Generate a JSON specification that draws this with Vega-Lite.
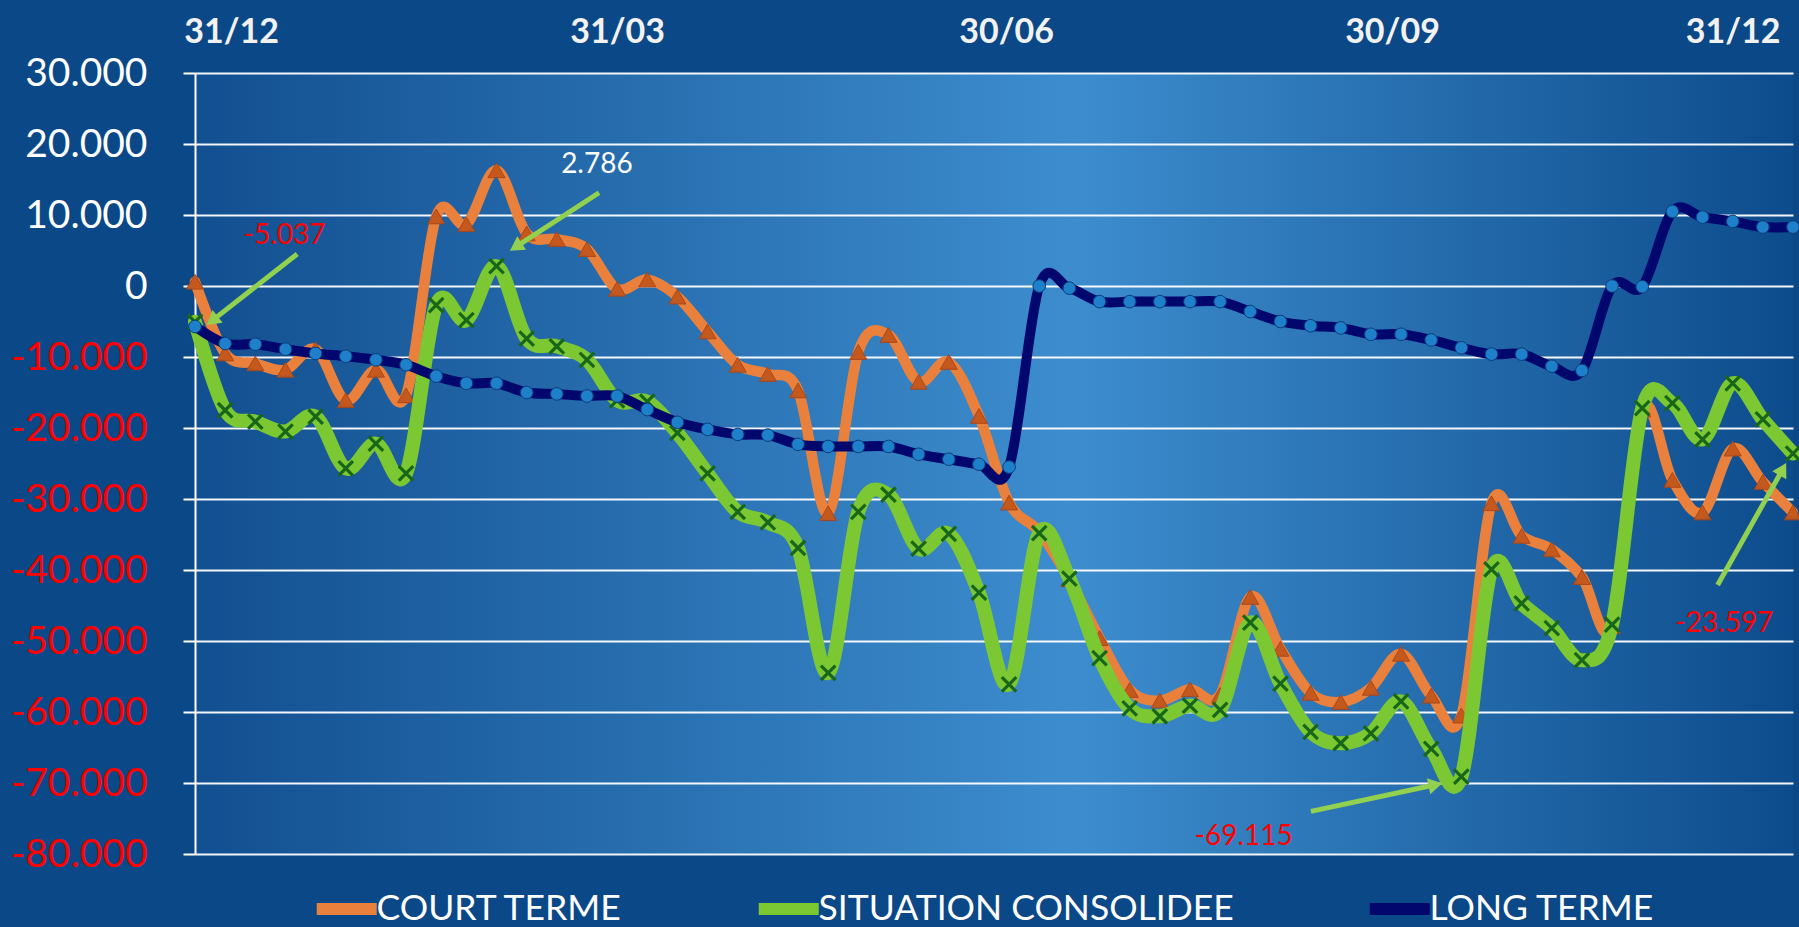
{
  "$schema": "https://vega.github.io/schema/vega-lite/v6.json",
  "width": 1598,
  "height": 781,
  "padding": {"left": 0, "top": 0, "right": 6, "bottom": 0},
  "background": "#0B4887",
  "config": {
    "locale": {"number": {"decimal": ",", "thousands": ".", "grouping": [3], "currency": ["", " €"], "minus": "-"}},
    "view": {"stroke": null, "fill": {"gradient": "linear", "x1": 0, "y1": 0, "x2": 1, "y2": 0, "stops": [{"offset": 0, "color": "#124F90"}, {"offset": 0.55, "color": "#3D8DCE"}, {"offset": 1, "color": "#0D4C8C"}]}},
    "font": "Lato"
  },
  "datasets": {
    "semaines": [
      {"s": 0, "ct": 600, "sc": -5037, "lt": -5700},
      {"s": 1, "ct": -9500, "sc": -17500, "lt": -8100},
      {"s": 2, "ct": -10900, "sc": -19100, "lt": -8200},
      {"s": 3, "ct": -11800, "sc": -20500, "lt": -8900},
      {"s": 4, "ct": -8900, "sc": -18400, "lt": -9500},
      {"s": 5, "ct": -16100, "sc": -25700, "lt": -9900},
      {"s": 6, "ct": -11800, "sc": -22200, "lt": -10400},
      {"s": 7, "ct": -15400, "sc": -26400, "lt": -11100},
      {"s": 8, "ct": 9800, "sc": -2700, "lt": -12700},
      {"s": 9, "ct": 8700, "sc": -4800, "lt": -13700},
      {"s": 10, "ct": 16300, "sc": 2786, "lt": -13700},
      {"s": 11, "ct": 7400, "sc": -7400, "lt": -15000},
      {"s": 12, "ct": 6600, "sc": -8500, "lt": -15200},
      {"s": 13, "ct": 5200, "sc": -10400, "lt": -15500},
      {"s": 14, "ct": -400, "sc": -16100, "lt": -15500},
      {"s": 15, "ct": 900, "sc": -16300, "lt": -17400},
      {"s": 16, "ct": -1500, "sc": -20700, "lt": -19200},
      {"s": 17, "ct": -6400, "sc": -26400, "lt": -20200},
      {"s": 18, "ct": -11100, "sc": -31800, "lt": -20900},
      {"s": 19, "ct": -12400, "sc": -33300, "lt": -21000},
      {"s": 20, "ct": -14700, "sc": -36900, "lt": -22300},
      {"s": 21, "ct": -32000, "sc": -54500, "lt": -22600},
      {"s": 22, "ct": -9300, "sc": -31800, "lt": -22600},
      {"s": 23, "ct": -6900, "sc": -29400, "lt": -22600},
      {"s": 24, "ct": -13500, "sc": -37000, "lt": -23700},
      {"s": 25, "ct": -10700, "sc": -34900, "lt": -24400},
      {"s": 26, "ct": -18300, "sc": -43200, "lt": -25100},
      {"s": 27, "ct": -30500, "sc": -56100, "lt": -25500},
      {"s": 28, "ct": -34600, "sc": -34800, "lt": 0},
      {"s": 29, "ct": -41300, "sc": -41200, "lt": -300},
      {"s": 30, "ct": -49600, "sc": -52400, "lt": -2200},
      {"s": 31, "ct": -56900, "sc": -59500, "lt": -2200},
      {"s": 32, "ct": -58400, "sc": -60600, "lt": -2200},
      {"s": 33, "ct": -56800, "sc": -59100, "lt": -2200},
      {"s": 34, "ct": -57600, "sc": -59700, "lt": -2200},
      {"s": 35, "ct": -43800, "sc": -47400, "lt": -3600},
      {"s": 36, "ct": -51100, "sc": -56000, "lt": -5000},
      {"s": 37, "ct": -57300, "sc": -62800, "lt": -5600},
      {"s": 38, "ct": -58600, "sc": -64400, "lt": -5900},
      {"s": 39, "ct": -56600, "sc": -63000, "lt": -6800},
      {"s": 40, "ct": -51800, "sc": -58500, "lt": -6800},
      {"s": 41, "ct": -57700, "sc": -65200, "lt": -7600},
      {"s": 42, "ct": -60500, "sc": -69115, "lt": -8700},
      {"s": 43, "ct": -30600, "sc": -39900, "lt": -9600},
      {"s": 44, "ct": -35200, "sc": -44700, "lt": -9600},
      {"s": 45, "ct": -37100, "sc": -48200, "lt": -11300},
      {"s": 46, "ct": -41000, "sc": -52700, "lt": -11900},
      {"s": 47, "ct": -47900, "sc": -47700, "lt": 0},
      {"s": 48, "ct": -17400, "sc": -17200, "lt": -100},
      {"s": 49, "ct": -27300, "sc": -16500, "lt": 10500},
      {"s": 50, "ct": -31900, "sc": -21600, "lt": 9700},
      {"s": 51, "ct": -22900, "sc": -13700, "lt": 9100},
      {"s": 52, "ct": -27600, "sc": -18800, "lt": 8300},
      {"s": 53, "ct": -31900, "sc": -23597, "lt": 8300}
    ],
    "etiquettes": [
      {"x": 2.97, "y": 7000, "t": "-5.037", "neg": true},
      {"x": 13.33, "y": 17100, "t": "2.786", "neg": false},
      {"x": 34.78, "y": -77600, "t": "-69.115", "neg": true},
      {"x": 50.72, "y": -47550, "t": "-23.597", "neg": true}
    ],
    "fleches": [
      {"id": 1, "x0": 3.39, "y0": 4510, "hx": 0.57, "hy": -4880},
      {"id": 2, "x0": 13.4, "y0": 13130, "hx": 10.64, "hy": 5510},
      {"id": 3, "x0": 37.01, "y0": -74000, "hx": 41.14, "hy": -70250},
      {"id": 4, "x0": 50.5, "y0": -42100, "hx": 52.66, "hy": -25800}
    ]
  },
  "layer": [
    {
      "data": {"name": "semaines"},
      "mark": {"type": "line", "interpolate": "cardinal", "strokeWidth": 10.5, "strokeCap": "round", "strokeJoin": "round"},
      "encoding": {
        "x": {"field": "s", "type": "quantitative", "title": null,
          "scale": {"domain": [0, 53], "nice": false, "zero": false},
          "axis": {"orient": "top", "values": [1.2, 14, 26.9, 39.7, 51], "labelExpr": "datum.value < 5 ? '31/12' : datum.value < 20 ? '31/03' : datum.value < 30 ? '30/06' : datum.value < 45 ? '30/09' : '31/12'", "domain": false, "ticks": false, "tickSize": 0, "grid": false, "labelFont": "Lato", "labelFontWeight": "bold", "labelFontSize": 34, "labelColor": "#F2F2F2", "labelPadding": 31, "labelBaseline": "alphabetic", "labelAlign": "center", "minExtent": 73, "maxExtent": 73, "title": null, "labelFlush": false, "labelOverlap": false}},
        "y": {"field": "ct", "type": "quantitative", "title": null,
          "scale": {"domain": [-80000, 30000], "nice": false, "zero": false},
          "axis": {"values": [-80000, -75000, -70000, -65000, -60000, -55000, -50000, -45000, -40000, -35000, -30000, -25000, -20000, -15000, -10000, -5000, 0, 5000, 10000, 15000, 20000, 25000, 30000],
            "format": ",.0f", "labelExpr": "datum.value % 10000 === 0 ? datum.label : ''",
            "labelColor": {"condition": {"test": "datum.value < 0", "value": "#FF0000"}, "value": "#FFFFFF"},
            "labelFont": "Lato", "labelFontSize": 39, "labelPadding": 36, "labelOverlap": false, "labelFlush": false,
            "tickSize": 12, "tickWidth": 2,
            "tickColor": {"condition": {"test": "datum.value % 10000 === 0", "value": "#FFFFFF"}, "value": "rgba(0,0,0,0)"},
            "grid": true,
            "gridColor": "#FFFFFF",
            "gridOpacity": {"condition": {"test": "datum.value % 10000 === 0", "value": 0.95}, "value": 0.25},
            "gridWidth": {"condition": {"test": "datum.value % 10000 === 0", "value": 2}, "value": 1.5},
            "domain": true, "domainColor": "#FFFFFF", "domainWidth": 2,
            "minExtent": 195, "maxExtent": 195, "title": null}},
        "color": {"datum": "COURT TERME", "type": "nominal",
          "scale": {"domain": ["COURT TERME", "SITUATION CONSOLIDEE", "LONG TERME"], "range": ["#E9803C", "#7CC832", "#02076E"]},
          "legend": {"orient": "none", "legendX": 134, "legendY": 818, "direction": "horizontal", "columns": 3, "title": null, "symbolType": "M-3,0H3", "symbolStrokeWidth": 12, "symbolSize": 400, "labelFont": "Lato", "labelFontSize": 35.5, "labelColor": "#FFFFFF", "labelOffset": 12, "columnPadding": 111, "labelLimit": 0}}
      }
    },
    {
      "data": {"name": "semaines"},
      "mark": {"type": "point", "shape": "triangle-up", "size": 290, "filled": true, "fill": "#C4561B", "stroke": "#A8461A", "strokeWidth": 1, "opacity": 0.95},
      "encoding": {
        "x": {"field": "s", "type": "quantitative", "title": null},
        "y": {"field": "ct", "type": "quantitative", "title": null}
      }
    },
    {
      "data": {"name": "semaines"},
      "mark": {"type": "line", "interpolate": "cardinal", "strokeWidth": 14, "strokeCap": "round", "strokeJoin": "round"},
      "encoding": {
        "x": {"field": "s", "type": "quantitative", "title": null},
        "y": {"field": "sc", "type": "quantitative", "title": null},
        "color": {"datum": "SITUATION CONSOLIDEE", "type": "nominal"}
      }
    },
    {
      "data": {"name": "semaines"},
      "mark": {"type": "point", "shape": "M-1,-1L1,1M-1,1L1,-1", "size": 210, "filled": false, "stroke": "#17661A", "strokeWidth": 3.2, "opacity": 1},
      "encoding": {
        "x": {"field": "s", "type": "quantitative", "title": null},
        "y": {"field": "sc", "type": "quantitative", "title": null}
      }
    },
    {
      "data": {"name": "semaines"},
      "mark": {"type": "line", "interpolate": "cardinal", "strokeWidth": 10, "strokeCap": "round", "strokeJoin": "round"},
      "encoding": {
        "x": {"field": "s", "type": "quantitative", "title": null},
        "y": {"field": "lt", "type": "quantitative", "title": null},
        "color": {"datum": "LONG TERME", "type": "nominal"}
      }
    },
    {
      "data": {"name": "semaines"},
      "mark": {"type": "point", "shape": "circle", "size": 160, "filled": true, "fill": "#1E7FCB", "stroke": "#0B3E78", "strokeWidth": 1, "opacity": 1},
      "encoding": {
        "x": {"field": "s", "type": "quantitative", "title": null},
        "y": {"field": "lt", "type": "quantitative", "title": null}
      }
    },
    {
      "data": {"name": "fleches"},
      "mark": {"type": "rule", "stroke": "#92D050", "strokeWidth": 5},
      "encoding": {
        "x": {"field": "x0", "type": "quantitative", "title": null},
        "y": {"field": "y0", "type": "quantitative", "title": null},
        "x2": {"field": "hx"},
        "y2": {"field": "hy"}
      }
    },
    {
      "data": {"name": "fleches"},
      "transform": [{"filter": "datum.id === 1"}],
      "mark": {"type": "point", "shape": "triangle-up", "size": 260, "filled": true, "fill": "#92D050", "strokeWidth": 0, "opacity": 1, "angle": 231.7},
      "encoding": {"x": {"field": "hx", "type": "quantitative", "title": null}, "y": {"field": "hy", "type": "quantitative", "title": null}}
    },
    {
      "data": {"name": "fleches"},
      "transform": [{"filter": "datum.id === 2"}],
      "mark": {"type": "point", "shape": "triangle-up", "size": 260, "filled": true, "fill": "#92D050", "strokeWidth": 0, "opacity": 1, "angle": 237},
      "encoding": {"x": {"field": "hx", "type": "quantitative", "title": null}, "y": {"field": "hy", "type": "quantitative", "title": null}}
    },
    {
      "data": {"name": "fleches"},
      "transform": [{"filter": "datum.id === 3"}],
      "mark": {"type": "point", "shape": "triangle-up", "size": 260, "filled": true, "fill": "#92D050", "strokeWidth": 0, "opacity": 1, "angle": 77.8},
      "encoding": {"x": {"field": "hx", "type": "quantitative", "title": null}, "y": {"field": "hy", "type": "quantitative", "title": null}}
    },
    {
      "data": {"name": "fleches"},
      "transform": [{"filter": "datum.id === 4"}],
      "mark": {"type": "point", "shape": "triangle-up", "size": 260, "filled": true, "fill": "#92D050", "strokeWidth": 0, "opacity": 1, "angle": 29.3},
      "encoding": {"x": {"field": "hx", "type": "quantitative", "title": null}, "y": {"field": "hy", "type": "quantitative", "title": null}}
    },
    {
      "data": {"name": "etiquettes"},
      "mark": {"type": "text", "font": "Lato", "fontSize": 28, "align": "center", "baseline": "middle"},
      "encoding": {
        "x": {"field": "x", "type": "quantitative", "title": null},
        "y": {"field": "y", "type": "quantitative", "title": null},
        "text": {"field": "t"},
        "color": {"condition": {"test": "datum.neg", "value": "#FF0000"}, "value": "#FFFFFF"}
      }
    }
  ]
}
